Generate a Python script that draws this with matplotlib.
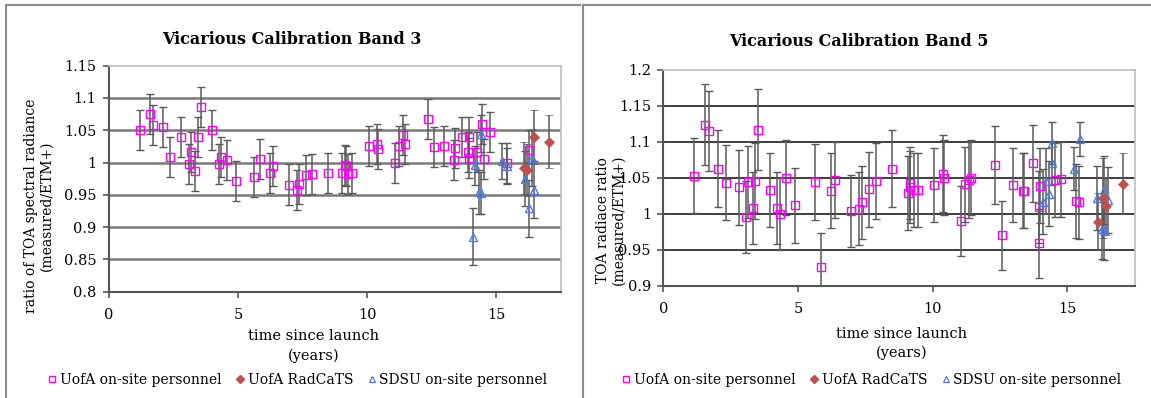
"""
Vicarious calibration of bands 3 and 5: TOA radiance ratio vs time since launch.
Writes out.png
"""

import matplotlib
matplotlib.use("Agg")
import matplotlib.pyplot as plt
from matplotlib.lines import Line2D

plt.rcParams["font.family"] = ["DejaVu Serif"]

# ---- Band 3 -------------------------------------------------------------
b3_uofa_t = [1.19, 1.58, 1.72, 2.08, 2.35, 2.81, 3.09, 3.18, 3.32, 3.45, 3.57,
             3.98, 4.27, 4.36, 4.58, 4.94, 5.63, 5.87, 6.23, 6.35, 6.98, 7.28,
             7.38, 7.64, 7.88, 8.50, 9.04, 9.15, 9.17, 9.28, 9.40, 10.06, 10.39,
             10.43, 11.09, 11.25, 11.40, 11.46, 12.35, 12.58, 12.97, 13.37, 13.40,
             13.69, 13.92, 13.95, 13.95, 14.27, 14.46, 14.54, 14.77, 15.43, 16.29]
b3_uofa_r = [1.051, 1.075, 1.058, 1.055, 1.009, 1.039, 0.998, 1.017, 0.987, 1.039,
             1.086, 1.051, 0.998, 1.009, 1.004, 0.971, 0.978, 1.005, 0.984, 0.994,
             0.966, 0.957, 0.967, 0.981, 0.983, 0.984, 0.984, 0.996, 0.994, 0.983,
             0.984, 1.026, 1.028, 1.021, 1.000, 1.025, 1.042, 1.028, 1.067, 1.024,
             1.026, 1.004, 1.023, 1.040, 1.016, 1.040, 1.007, 1.017, 1.059, 1.006,
             1.048, 1.000, 1.019]
b3_uofa_e = [0.031] * len(b3_uofa_t)

b3_rad_t = [16.10, 16.20, 16.46, 17.04]
b3_rad_r = [0.992, 0.988, 1.039, 1.032]
b3_rad_e = [0.040, 0.040, 0.042, 0.041]

b3_sdsu_t = [14.10, 14.19, 14.36, 14.41, 14.42, 15.24, 15.43, 16.11, 16.29, 16.38, 16.46]
b3_sdsu_r = [0.885, 0.996, 0.954, 1.045, 0.953, 1.002, 0.995, 0.975, 0.929, 1.007, 0.958]
b3_sdsu_e = [0.044, 0.030, 0.034, 0.029, 0.033, 0.028, 0.028, 0.043, 0.044, 0.044, 0.044]

# ---- Band 5 -------------------------------------------------------------
b5_uofa_t = [1.12, 1.54, 1.69, 2.02, 2.32, 2.80, 3.06, 3.15, 3.31, 3.40, 3.52,
             3.97, 4.23, 4.34, 4.57, 4.90, 5.64, 5.86, 6.21, 6.36, 6.95, 7.26,
             7.36, 7.63, 7.90, 8.49, 9.07, 9.15, 9.16, 9.32, 9.44, 10.06, 10.39,
             10.43, 11.06, 11.21, 11.36, 11.42, 12.33, 12.57, 12.97, 13.36, 13.38,
             13.71, 13.94, 13.94, 13.98, 14.55, 14.76, 15.34, 15.44]
b5_uofa_r = [1.053, 1.124, 1.115, 1.063, 1.043, 1.037, 0.996, 1.044, 1.008, 1.046,
             1.117, 1.033, 1.008, 1.000, 1.050, 1.012, 1.044, 0.926, 1.032, 1.047,
             1.004, 1.007, 1.016, 1.034, 1.046, 1.063, 1.029, 1.037, 1.043, 1.033,
             1.033, 1.040, 1.056, 1.050, 0.990, 1.041, 1.047, 1.050, 1.068, 0.970,
             1.040, 1.032, 1.032, 1.070, 0.959, 1.009, 1.039, 1.047, 1.048, 1.018,
             1.016]
b5_uofa_e = [0.052, 0.056, 0.056, 0.053, 0.052, 0.052, 0.050, 0.050, 0.050, 0.053,
             0.056, 0.051, 0.050, 0.050, 0.052, 0.052, 0.053, 0.047, 0.052, 0.053,
             0.050, 0.051, 0.051, 0.052, 0.053, 0.053, 0.051, 0.050, 0.050, 0.052,
             0.052, 0.052, 0.053, 0.052, 0.049, 0.052, 0.053, 0.052, 0.054, 0.048,
             0.052, 0.052, 0.052, 0.053, 0.048, 0.050, 0.052, 0.052, 0.052, 0.051,
             0.051]

b5_rad_t = [16.13, 16.31, 16.45, 17.08]
b5_rad_r = [0.989, 1.022, 1.011, 1.042]
b5_rad_e = [0.040, 0.055, 0.040, 0.042]

b5_sdsu_t = [14.08, 14.21, 14.33, 14.43, 14.43, 15.25, 15.47, 16.11, 16.29, 16.37, 16.37, 16.50]
b5_sdsu_r = [1.017, 1.046, 1.028, 1.070, 1.098, 1.063, 1.104, 1.022, 0.979, 0.978, 1.033, 1.019]
b5_sdsu_e = [0.045, 0.045, 0.045, 0.030, 0.029, 0.030, 0.024, 0.045, 0.042, 0.042, 0.047, 0.046]

W, H = 1151, 398

UOFA_C = "#ff00ff"
RAD_C = "#c0504d"
SDSU_C = "#4a7de8"
ERR_C = "#5a5a5a"


def px_rect(left, right, top, bottom):
    return [left / W, 1 - bottom / H, (right - left) / W, (bottom - top) / H]


def draw_panel(ax, series, title, ylabel, ylim, yticks, yticklabels, grid_c,
               grid_lw, ylab_xy, xlab_xy, title_xy, leg_xy):
    for t, r, e, kind in series:
        if kind == "uofa":
            kw = dict(marker="s", ms=5.2, mfc="none", mec=UOFA_C, mew=1.0)
        elif kind == "rad":
            kw = dict(marker="D", ms=4.6, mfc=RAD_C, mec=RAD_C, mew=0.5)
        else:
            kw = dict(marker="^", ms=6.0, mfc="none", mec=SDSU_C, mew=1.0)
        ax.errorbar(t, r, yerr=e, ls="none", ecolor=ERR_C, elinewidth=1.1,
                    capsize=2.6, capthick=1.1, zorder=3, **kw)

    ax.set_xlim(0, 17.5)
    ax.set_ylim(*ylim)
    ax.set_xticks([0, 5, 10, 15])
    ax.set_yticks(yticks)
    ax.set_yticklabels(yticklabels)
    ax.tick_params(axis="both", direction="out", length=4, width=1.2,
                   color="#555555", labelsize=10.5, pad=5)
    ax.tick_params(axis="x", pad=8)
    for y in yticks[1:-1]:
        ax.axhline(y, color=grid_c, lw=grid_lw, zorder=1)
    for s in ("left", "bottom"):
        ax.spines[s].set_color("#555555")
        ax.spines[s].set_linewidth(1.5)
    for s in ("top", "right"):
        ax.spines[s].set_color("#bdbdbd")
        ax.spines[s].set_linewidth(1.2)

    # the band 5 label runs over the tick labels, as in the source figure
    ax.set_ylabel(ylabel, fontsize=10, linespacing=1.15)
    ax.yaxis.set_label_coords(*ylab_xy)
    ax.set_xlabel("time since launch\n(years)", fontsize=10.5, linespacing=1.45)
    ax.xaxis.set_label_coords(*xlab_xy)
    ax.figure.text(title_xy[0] / W, 1 - title_xy[1] / H, title, ha="center",
                   va="center", fontsize=11.5, fontweight="bold")

    handles = [
        Line2D([], [], ls="none", marker="s", ms=4, mfc="none", mec=UOFA_C, mew=1.0),
        Line2D([], [], ls="none", marker="D", ms=3.6, mfc=RAD_C, mec=RAD_C),
        Line2D([], [], ls="none", marker="^", ms=4.5, mfc="none", mec=SDSU_C, mew=0.9),
    ]
    labels = ["UofA on-site personnel", "UofA RadCaTS", "SDSU on-site personnel"]
    ax.figure.legend(handles, labels, loc="center", ncol=3, frameon=False,
                     bbox_to_anchor=(leg_xy[0] / W, 1 - leg_xy[1] / H),
                     fontsize=10, handlelength=0.5, handletextpad=0.3,
                     columnspacing=1.1)


fig = plt.figure(figsize=(W / 100, H / 100), dpi=100)

ax3 = fig.add_axes(px_rect(109, 560.5, 65.7, 291.7))
draw_panel(ax3,
           [(b3_uofa_t, b3_uofa_r, b3_uofa_e, "uofa"),
            (b3_sdsu_t, b3_sdsu_r, b3_sdsu_e, "sdsu"),
            (b3_rad_t, b3_rad_r, b3_rad_e, "rad")],
           "Vicarious Calibration Band 3",
           "ratio of TOA spectral radiance\n(measured/ETM+)",
           (0.8, 1.15),
           [0.8, 0.85, 0.9, 0.95, 1.0, 1.05, 1.1, 1.15],
           ["0.8", "0.85", "0.9", "0.95", "1", "1.05", "1.1", "1.15"],
           "#7a7a7a", 1.8,
           (-0.122, 0.38), (0.454, -0.165), (292, 39), (298, 380))

ax5 = fig.add_axes(px_rect(663.4, 1134.6, 70, 285.7))
draw_panel(ax5,
           [(b5_uofa_t, b5_uofa_r, b5_uofa_e, "uofa"),
            (b5_sdsu_t, b5_sdsu_r, b5_sdsu_e, "sdsu"),
            (b5_rad_t, b5_rad_r, b5_rad_e, "rad")],
           "Vicarious Calibration Band 5",
           "TOA radiace ratio\n(measured/ETM+)",
           (0.9, 1.2),
           [0.9, 0.95, 1.0, 1.05, 1.1, 1.15, 1.2],
           ["0.9", "0.95", "1", "1.05", "1.1", "1.15", "1.2"],
           "#2e2e2e", 1.3,
           (-0.08, 0.305), (0.506, -0.19), (858.6, 42), (872, 380))

# panel frames of the pasted images
frame_kw = dict(color="#8a8a8a", lw=1.5, transform=fig.transFigure)
fig.add_artist(Line2D([6 / W, 6 / W], [0, 1 - 5 / H], **frame_kw))
fig.add_artist(Line2D([6 / W, 580 / W], [1 - 5 / H, 1 - 5 / H], **frame_kw))
fig.add_artist(Line2D([583 / W, 583 / W], [0, 1 - 5 / H], **frame_kw))
fig.add_artist(Line2D([583 / W, 1 - 0.5 / W], [1 - 5 / H, 1 - 5 / H], **frame_kw))

fig.savefig("out.png", dpi=100)
